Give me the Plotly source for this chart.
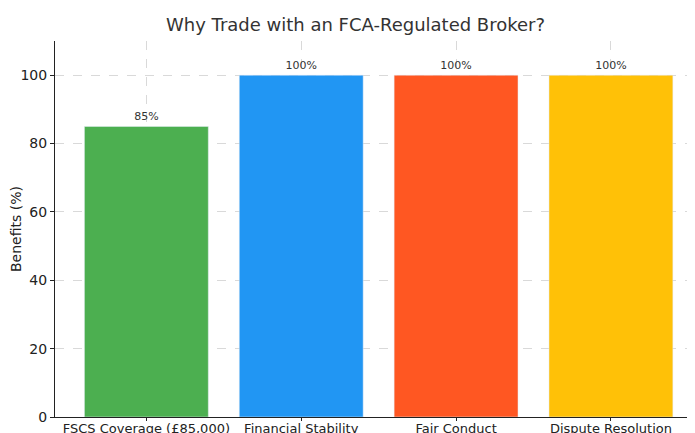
import plotly.graph_objects as go

categories = ["FSCS Coverage (£85,000)", "Financial Stability", "Fair Conduct", "Dispute Resolution"]
values = [85, 100, 100, 100]
labels = ["85%", "100%", "100%", "100%"]
colors = ["#4CAF50", "#2196F3", "#FF5722", "#FFC107"]

fig = go.Figure(go.Bar(
    x=categories, y=values, text=labels, textposition="outside",
    marker_color=colors, width=0.8, cliponaxis=False,
    textfont=dict(size=11, color="#333"),
))
grid = dict(showgrid=True, gridcolor="#d9d9d9", griddash="dash", gridwidth=0.8)
fig.update_layout(
    width=695, height=433,
    margin=dict(l=47, r=10, t=33, b=24),
    paper_bgcolor="white", plot_bgcolor="white",
    font=dict(family="DejaVu Sans", size=14, color="#222"),
    title=dict(text="Why Trade with an FCA-Regulated Broker?", x=0.5, y=0.975,
               xanchor="center", font=dict(size=18, color="#333")),
    showlegend=False,
)
fig.update_xaxes(range=[-0.59, 3.53], showline=True, linecolor="#222", ticks="outside",
                 ticklen=3, tickcolor="#222", automargin=False, ticklabelstandoff=-4,
                 tickfont=dict(size=13), **grid)
fig.update_yaxes(range=[0, 110], dtick=20, showline=True, linecolor="#222", ticks="outside",
                 ticklen=4, tickcolor="#222", automargin=False,
                 title=dict(text="Benefits (%)", standoff=8, font=dict(size=14)),
                 zeroline=False, **grid)
fig.write_html("out.html")
